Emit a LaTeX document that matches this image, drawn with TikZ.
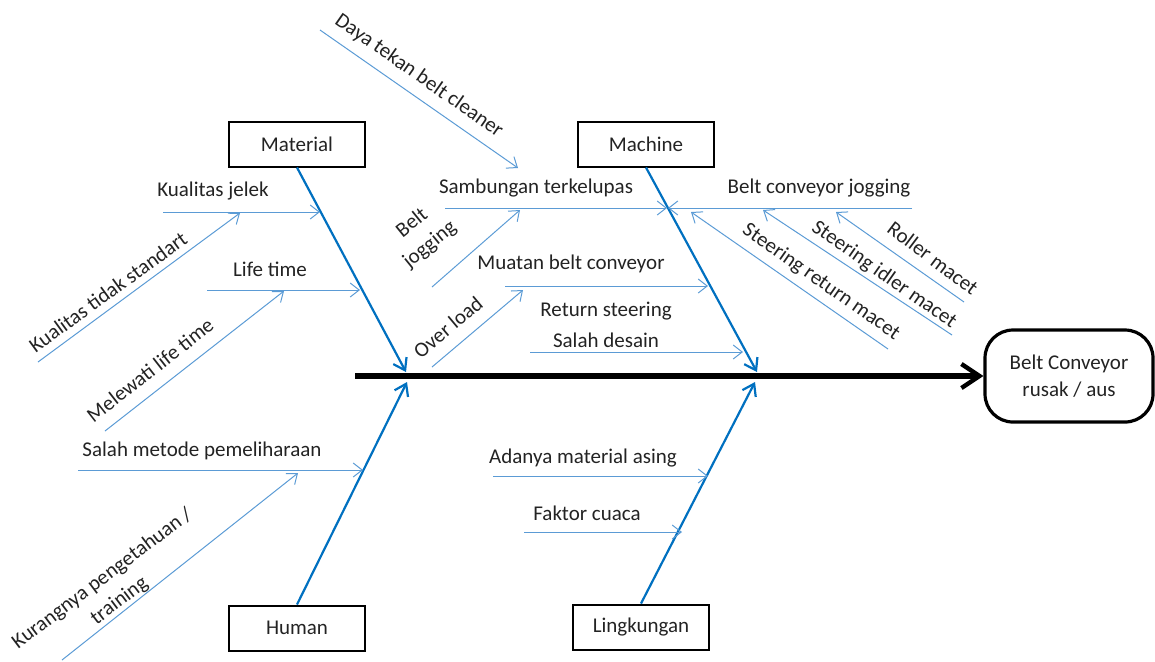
\documentclass[tikz,border=0pt]{standalone}
\usepackage{fontspec}
\setmainfont{Carlito}
\usepackage{xcolor}
\usepackage{tikz}
\usetikzlibrary{arrows.meta, positioning}
\definecolor{bonblue}{RGB}{0, 112, 192}
\definecolor{twigblue}{RGB}{91, 155, 213}
\definecolor{txtgray}{RGB}{35, 35, 35}

\begin{document}
\begin{tikzpicture}[
  x=0.5pt, y=-0.5pt,
  catbox/.style={draw, line width=1pt, minimum width=68pt, minimum height=22.5pt, inner sep=0pt, font=\fontsize{10.5}{13}\selectfont, text=txtgray},
  effbox/.style={draw, line width=1.6pt, rounded corners=14pt, minimum width=84pt, minimum height=46pt, align=center, font=\fontsize{10.5}{13.5}\selectfont, text=txtgray},
  spine/.style={-{Straight Barb[length=9pt, width=12pt, line width=2.2pt]}, line width=3.2pt, black},
  bone/.style={-{Straight Barb[length=5.5pt, width=7.5pt]}, line width=1.1pt, bonblue},
  twig/.style={-{Straight Barb[length=4.5pt, width=7pt]}, line width=0.5pt, twigblue},
  lbl/.style={inner sep=0pt, align=center, font=\fontsize{10.5}{14}\selectfont, text=txtgray}
]
\useasboundingbox (0,0) rectangle (1155,661);

% Category boxes and effect
\node[catbox] (material) at (297,144) {Material};
\node[catbox] (machine) at (646,144) {Machine};
\node[catbox] (human) at (297,628) {Human};
\node[catbox] (lingkungan) at (641,627) {Lingkungan};
\node[effbox] (effect) at (1069,376) {Belt Conveyor\\rusak / aus};

% Spine
\coordinate (tail) at (355,376);
\draw[spine] (tail) -- (effect.west);

% Bones (heads sit on the spine)
\coordinate (matHead) at (406,372);
\coordinate (macHead) at (757,372);
\coordinate (humHead) at (407,382);
\coordinate (linHead) at (755,382);
\draw[bone] (material.south) -- (matHead);
\draw[bone] (machine.south) -- (macHead);
\draw[bone] (human.north) -- (humHead);
\draw[bone] (lingkungan.north) -- (linHead);

% Material causes
\coordinate (jelekA) at (163,212);  \coordinate (jelekB) at (320,212);
\coordinate (stdA) at (38,362);     \coordinate (stdB) at (240,213);
\coordinate (lifeA) at (207,290);   \coordinate (lifeB) at (360,290);
\coordinate (lewatA) at (105,431);  \coordinate (lewatB) at (284,291);
\draw[twig] (jelekA) -- (jelekB);
\draw[twig] (stdA) -- (stdB);
\draw[twig] (lifeA) -- (lifeB);
\draw[twig] (lewatA) -- (lewatB);
\node[lbl] (jelek) at (213,191) {Kualitas jelek};
\node[lbl, rotate=36] (tidakstd) at (108,292) {Kualitas tidak standart};
\node[lbl] (life) at (270,269) {Life time};
\node[lbl, rotate=38] (melewati) at (150,370) {Melewati life time};

% Human causes
\coordinate (metodeA) at (78,470);  \coordinate (metodeB) at (363,470);
\coordinate (kurangA) at (62,660);  \coordinate (kurangB) at (298,473);
\draw[twig] (metodeA) -- (metodeB);
\draw[twig] (kurangA) -- (kurangB);
\node[lbl] (metode) at (202,451) {Salah metode pemeliharaan};
\node[lbl, rotate=37] (kurang) at (111,590) {Kurangnya pengetahuan /\\training};

% Machine causes, left of the bone
\coordinate (dayaA) at (320,30);    \coordinate (dayaB) at (518,168);
\coordinate (sambA) at (445,208);   \coordinate (sambB) at (667,208);
\coordinate (bjogA) at (432,287);   \coordinate (bjogB) at (520,210);
\coordinate (muatA) at (505,286);   \coordinate (muatB) at (708,286);
\coordinate (overA) at (432,367);   \coordinate (overB) at (523,290);
\coordinate (desA) at (530,352);    \coordinate (desB) at (743,352);
\draw[twig] (dayaA) -- (dayaB);
\draw[twig] (sambA) -- (sambB);
\draw[twig] (bjogA) -- (bjogB);
\draw[twig] (muatA) -- (muatB);
\draw[twig] (overA) -- (overB);
\draw[twig] (desA) -- (desB);
\node[lbl, rotate=-35] (daya) at (419,76) {Daya tekan belt cleaner};
\node[lbl] (sambungan) at (536,188) {Sambungan terkelupas};
\node[lbl, rotate=39] (beltjog) at (421,234) {Belt\\jogging};
\node[lbl] (muatan) at (571,264) {Muatan belt conveyor};
\node[lbl, rotate=40] (overload) at (448,327) {Over load};
\node[lbl] (retsteer) at (606,311) {Return steering};
\node[lbl] (desain) at (606,340) {Salah desain};

% Machine causes, right of the bone
\coordinate (bcjA) at (912,208);    \coordinate (bcjB) at (668,208);
\coordinate (rollA) at (964,302);   \coordinate (rollB) at (836,212);
\coordinate (idlA) at (952,335);    \coordinate (idlB) at (763,210);
\coordinate (retA) at (888,349);    \coordinate (retB) at (691,212);
\draw[twig] (bcjA) -- (bcjB);
\draw[twig] (rollA) -- (rollB);
\draw[twig] (idlA) -- (idlB);
\draw[twig] (retA) -- (retB);
\node[lbl] (bcjog) at (819,188) {Belt conveyor jogging};
\node[lbl, rotate=-37] (roller) at (933,258) {Roller macet};
\node[lbl, rotate=-35] (idler) at (884,275) {Steering idler macet};
\node[lbl, rotate=-35] (retmacet) at (821,282) {Steering return macet};

% Lingkungan causes
\coordinate (asingA) at (493,476);  \coordinate (asingB) at (708,476);
\coordinate (cuacaA) at (524,532);  \coordinate (cuacaB) at (682,532);
\draw[twig] (asingA) -- (asingB);
\draw[twig] (cuacaA) -- (cuacaB);
\node[lbl] (asing) at (583,458) {Adanya material asing};
\node[lbl] (cuaca) at (587,513) {Faktor cuaca};

\end{tikzpicture}
\end{document}
